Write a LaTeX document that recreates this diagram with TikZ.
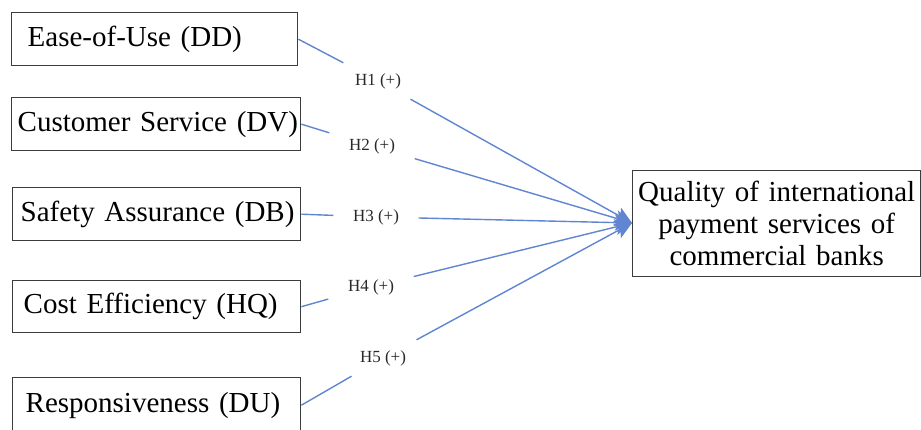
\documentclass[tikz,border=0pt]{standalone}
\usepackage{fontspec}
\setmainfont{Liberation Serif}
\usetikzlibrary{arrows.meta}
\definecolor{linkblue}{RGB}{96,134,210}
\definecolor{boxgray}{RGB}{60,60,60}
\definecolor{labgray}{RGB}{40,40,40}
\begin{document}
\begin{tikzpicture}[x=1pt,y=1pt,
  srcbox/.style={draw=boxgray, line width=1.4pt, anchor=north west, inner xsep=0pt, inner ysep=0pt,
    minimum height=53pt, align=left, font=\fontsize{29}{32}\selectfont},
  tgtbox/.style={draw=boxgray, line width=1.4pt, anchor=north west, inner sep=0pt,
    minimum width=288pt, minimum height=106pt, text width=288pt, align=center,
    font=\fontsize{29}{32}\selectfont},
  hyplab/.style={minimum width=85pt, minimum height=36pt, inner sep=0pt,
    text=labgray, font=\fontsize{17}{19}\selectfont},
  link/.style={draw=linkblue, line width=1.4pt},
  arrowlink/.style={link, -{Stealth[length=17pt,width=16pt,inset=4pt]}}
]
\useasboundingbox (0,0) rectangle (921,430);
\fill[white] (0,0) rectangle (921,430);

\node[srcbox, text width=286pt] (b1) at (11,430-12) {\hspace*{16pt}Ease-of-Use (DD)};
\node[srcbox, text width=289pt] (b2) at (11,430-97) {\hspace*{6pt}Customer Service (DV)};
\node[srcbox, text width=288pt] (b3) at (12,430-187) {\hspace*{8pt}Safety Assurance (DB)};
\node[srcbox, text width=288pt, minimum height=52pt] (b4) at (12,430-280) {\hspace*{11pt}Cost Efficiency (HQ)};
\node[srcbox, text width=288pt, minimum height=55pt] (b5) at (12,430-377) {\hspace*{13pt}Responsiveness (DU)};

\node[tgtbox] (q) at (632,430-170) {Quality of international\\payment services of\\commercial banks};
\coordinate (t) at (632,430-223);

\node[hyplab] (h1) at (378,430-81) {H1 (+)};
\node[hyplab] (h2) at (372,430-146) {H2 (+)};
\node[hyplab] (h3) at (376,430-217) {H3 (+)};
\node[hyplab] (h4) at (371,430-287) {H4 (+)};
\node[hyplab] (h5) at (383,430-358) {H5 (+)};

\foreach \i in {1,...,5}{
  \draw[link] (b\i.east) -- (h\i);
  \draw[arrowlink] (h\i) -- (t);
}
\end{tikzpicture}
\end{document}
